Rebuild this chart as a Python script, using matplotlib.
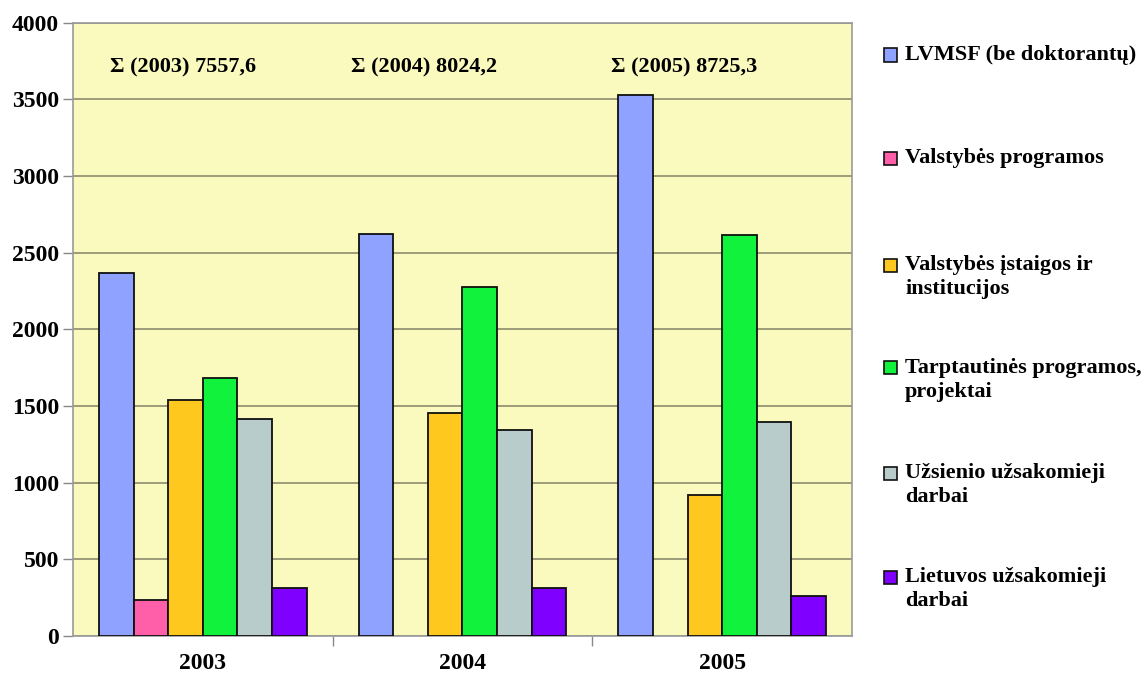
import matplotlib
matplotlib.use("Agg")
import matplotlib.pyplot as plt
from matplotlib.patches import Rectangle
import numpy as np

years = ["2003", "2004", "2005"]
series_names = [
    "LVMSF (be doktorantų)",
    "Valstybės programos",
    "Valstybės įstaigos ir\ninstitucijos",
    "Tarptautinės programos,\nprojektai",
    "Užsienio užsakomieji\ndarbai",
    "Lietuvos užsakomieji\ndarbai",
]
lvmsf = [2369, 2622, 3528]
valst_prog = [235, 0, 0]
valst_ist = [1537, 1456, 920]
tarpt = [1681, 2278, 2615]
uzsienio = [1417, 1346, 1398]
lietuvos = [311, 315, 261]
totals = ["Σ (2003) 7557,6", "Σ (2004) 8024,2", "Σ (2005) 8725,3"]
yticks = [0, 500, 1000, 1500, 2000, 2500, 3000, 3500, 4000]

colors = ["#8FA2FF", "#FF5FA8", "#FFC81E", "#10F23C", "#B8CCCC", "#8000FF"]
series = [lvmsf, valst_prog, valst_ist, tarpt, uzsienio, lietuvos]

plt.rcParams['font.family'] = ['Liberation Serif', 'DejaVu Serif']
plt.rcParams['font.weight'] = 'bold'

fig = plt.figure(figsize=(11.46, 6.77), dpi=100)
W, H = 1146, 677
ax = fig.add_axes([73 / W, (H - 636) / H, (852 - 73) / W, (636 - 22.7) / H])
ax.set_facecolor("#FAFABE")

n = len(series)
bw = 1.0 / (n + 1.5)
x = np.arange(len(years))
for i, (vals, c) in enumerate(zip(series, colors)):
    offs = -0.5 + 0.75 * bw + (i + 0.5) * bw
    heights = np.array(vals, dtype=float)
    mask = heights > 0
    ax.bar(x[mask] + offs, heights[mask], width=bw, color=c,
           edgecolor="#101010", linewidth=1.3, zorder=3)

ax.set_xlim(-0.5, len(years) - 0.5)
ax.set_ylim(0, 4000)
ax.set_yticks(yticks)
ax.set_yticklabels([str(t) for t in yticks], fontsize=17, fontweight='bold')
ax.yaxis.grid(True, color="#8C8C6E", linewidth=1.2, zorder=1)
ax.set_axisbelow(True)

ax.set_xticks(x)
ax.set_xticklabels(years, fontsize=17, fontweight='bold')
ax.tick_params(axis='x', length=0, pad=12)
ax.set_xticks([0.5, 1.5], minor=True)
ax.tick_params(axis='x', which='minor', length=7, color="#888888", width=1)
ax.tick_params(axis='y', length=7, color="#888888", width=1, pad=3)

for s in ax.spines.values():
    s.set_color("#9A9A9A")
    s.set_linewidth(1.2)

text_x = [-0.357, 0.57, 1.57]
for tx, lab in zip(text_x, totals):
    ax.text(tx, 3705, lab, fontsize=16, fontweight='bold', ha='left', va='center')

# legend
leg_y = [55, 158, 265, 368, 473, 577]
for yy, c, lab in zip(leg_y, colors, series_names):
    fig.patches.append(Rectangle((884 / W, 1 - (yy + 6.5) / H), 13 / W, 13 / H,
                                 transform=fig.transFigure, facecolor=c,
                                 edgecolor="#101010", linewidth=1.2))
    fig.text(905 / W, 1 - (yy - 10) / H, lab, fontsize=16, fontweight='bold',
             ha='left', va='top', linespacing=1.3)

fig.savefig("out.png", dpi=100)
